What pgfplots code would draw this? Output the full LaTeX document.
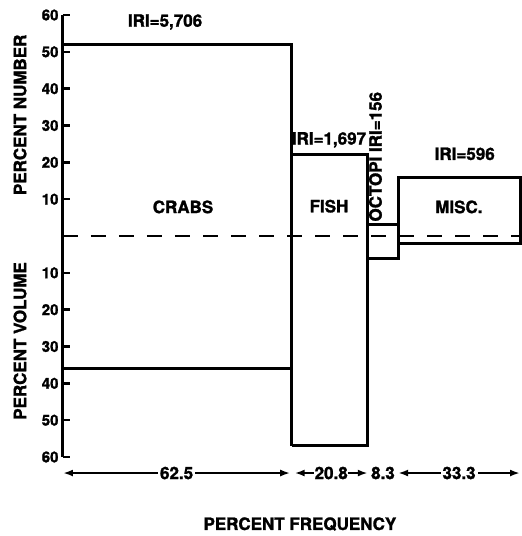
\documentclass[border=0pt]{standalone}
\usepackage{fontspec}
\setmainfont{TeX Gyre Heros}[BoldFeatures={FakeBold=1.5}]
\usepackage{pgfplots}
\pgfplotsset{compat=1.18}
\usetikzlibrary{arrows.meta}

\newcommand{\lbl}{\bfseries\fontsize{17}{17}\selectfont}
\newcommand{\tlbl}{\bfseries\fontsize{15}{15}\selectfont}

\begin{document}
\begin{tikzpicture}
\begin{axis}[
  at={(0,0)}, anchor=south west,
  scale only axis, width=457pt, height=442pt,
  xmin=0, xmax=124.9, ymin=-60, ymax=60,
  clip=false,
  axis x line=none,
  axis y line*=left,
  axis line style={line width=3pt},
  ytick={-60,-50,-40,-30,-20,-10,10,20,30,40,50,60},
  yticklabels={60,50,40,30,20,10,10,20,30,40,50,60},
  /pgf/number format/assume math mode=true,
  yticklabel style={font=\tlbl, xshift=-1pt},
  tick align=inside,
  major tick length=7pt,
  tick style={line width=2.5pt, black},
]
% prey categories: width = percent frequency, height = percent number (up) / percent volume (down)
\addplot[black, line width=3pt, line join=miter] coordinates {(0,-36) (0,52) (62.5,52) (62.5,-36) (0,-36)};
\addplot[black, line width=3pt, line join=miter] coordinates {(62.5,-57) (62.5,22) (83.3,22) (83.3,-57) (62.5,-57)};
\addplot[black, line width=3pt, line join=miter] coordinates {(83.3,-6) (83.3,3) (91.6,3) (91.6,-6) (83.3,-6)};
\addplot[black, line width=3pt, line join=miter] coordinates {(91.6,-2) (91.6,16) (124.9,16) (124.9,-2) (91.6,-2)};
% zero line
\addplot[black, line width=2.5pt, dash pattern=on 15pt off 13pt] coordinates {(0,0) (124.9,0)};

% labels
\node[font=\lbl] at (axis cs:27.9,58.1) {IRI=5,706};
\node[font=\lbl] at (axis cs:32.8,7.9) {CRABS};
\node[font=\lbl] at (axis cs:72.7,26.1) {IRI=1,697};
\node[font=\lbl] at (axis cs:72.7,8.1) {FISH};
\node[font=\lbl, rotate=90, anchor=west, inner sep=1pt] at (axis cs:85.4,3.6) {OCTOPI IRI=156};
\node[font=\lbl] at (axis cs:109.8,22.3) {IRI=596};
\node[font=\lbl] at (axis cs:108.2,7.9) {MISC.};

\node[font=\lbl, rotate=90] at (axis cs:-11.75,32.9) {PERCENT NUMBER};
\node[font=\lbl, rotate=90] at (axis cs:-11.75,-28.5) {PERCENT VOLUME};

% frequency widths
\draw[line width=2pt, {Latex[length=10pt,width=7pt]}-{Latex[length=10pt,width=7pt]}]
  (axis cs:0,-64.35) -- (axis cs:62.1,-64.35) node[midway, fill=white, inner sep=2pt, font=\lbl] {62.5};
\draw[line width=2pt, {Latex[length=10pt,width=7pt]}-{Latex[length=10pt,width=7pt]}]
  (axis cs:63.3,-64.35) -- (axis cs:83.3,-64.35) node[midway, fill=white, inner sep=0.5pt, font=\lbl] {20.8};
\node[font=\lbl] at (axis cs:87.45,-64.35) {8.3};
\draw[line width=2pt, {Latex[length=10pt,width=7pt]}-{Latex[length=10pt,width=7pt]}]
  (axis cs:91.6,-64.35) -- (axis cs:124.9,-64.35) node[midway, fill=white, inner sep=2pt, font=\lbl] {33.3};

\node[font=\lbl] at (axis cs:64.75,-78.2) {PERCENT FREQUENCY};
\end{axis}
\path (-63pt,-79pt) rectangle (457pt,457pt);
\end{tikzpicture}
\end{document}
